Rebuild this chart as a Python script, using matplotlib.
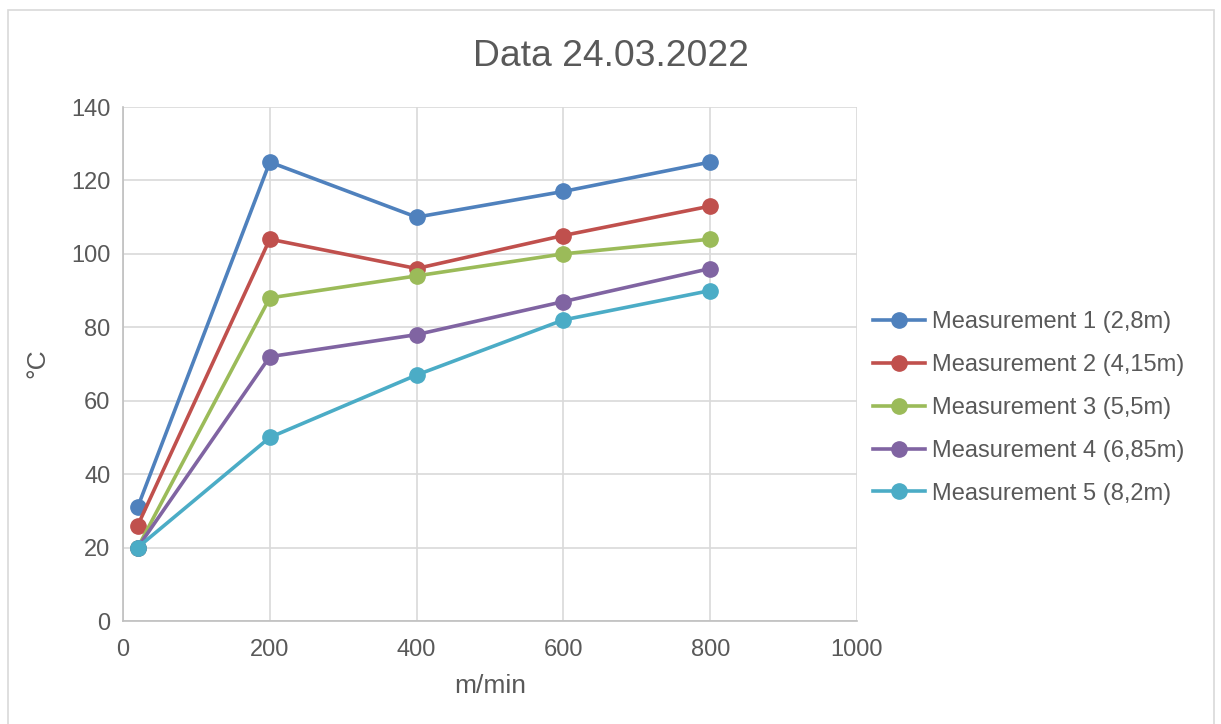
import matplotlib.pyplot as plt
from matplotlib.patches import Rectangle

plt.rcParams['font.family'] = ['Liberation Sans', 'DejaVu Sans']

# Data
speed = [20, 200, 400, 600, 800]  # m/min
labels = ['Measurement 1 (2,8m)', 'Measurement 2 (4,15m)', 'Measurement 3 (5,5m)',
          'Measurement 4 (6,85m)', 'Measurement 5 (8,2m)']
m1 = [31, 125, 110, 117, 125]
m2 = [26, 104, 96, 105, 113]
m3 = [20, 88, 94, 100, 104]
m4 = [20, 72, 78, 87, 96]
m5 = [20, 50, 67, 82, 90]
colors = ['#4F81BD', '#C0504D', '#9BBB59', '#8064A2', '#4BACC6']
txt = '#595959'

W, H = 1221, 724
fig = plt.figure(figsize=(W/100, H/100), dpi=100)
ax = fig.add_axes([123/W, 1-621/H, (857-123)/W, (621-107)/H])

for y, lab, c in zip([m1, m2, m3, m4, m5], labels, colors):
    ax.plot(speed, y, color=c, lw=2.6, marker='o', ms=11, label=lab)

ax.set_xlim(0, 1000)
ax.set_ylim(0, 140)
ax.set_xticks(range(0, 1001, 200))
ax.set_yticks(range(0, 141, 20))
ax.grid(True, color='#D9D9D9', lw=1.2)
ax.set_axisbelow(True)
for s in ['top', 'right']:
    ax.spines[s].set_visible(False)
for s in ['left', 'bottom']:
    ax.spines[s].set_color('#BFBFBF')
    ax.spines[s].set_linewidth(1.2)
ax.tick_params(length=0, labelsize=17, labelcolor=txt)
ax.tick_params(axis='x', pad=13)
ax.tick_params(axis='y', pad=9)

# axis titles and chart title, placed like the Excel chart
fig.text(490/W, 1-686/H, 'm/min', fontsize=19, color=txt, ha='center', va='center')
fig.text(37/W, 1-363/H, '°C', fontsize=19, color=txt, ha='center', va='center', rotation=90)
fig.text(611/W, 1-56/H, 'Data 24.03.2022', fontsize=26.8, color=txt, ha='center', va='center')

leg = fig.legend(loc='center left', bbox_to_anchor=(873/W, 1-408/H), frameon=False,
                 fontsize=17, labelcolor=txt, handlelength=2.2,
                 handletextpad=0.3, labelspacing=0.88, borderpad=0, borderaxespad=0)

fig.patches.append(Rectangle((8/W, -0.05), 1206/W, 1.05 - 10/H,
                             transform=fig.transFigure, fill=False,
                             edgecolor='#D9D9D9', lw=1.2))

fig.savefig('out.png', dpi=100)
